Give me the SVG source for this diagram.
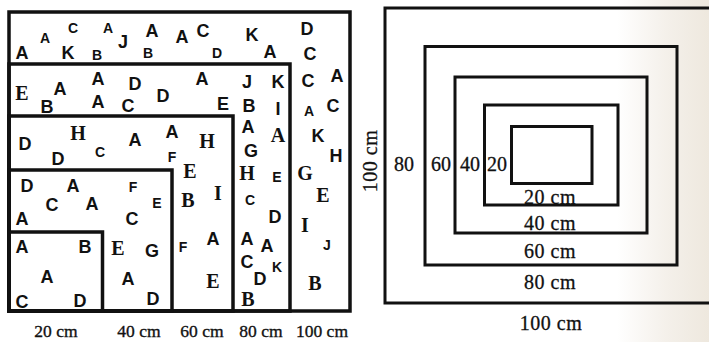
<svg xmlns="http://www.w3.org/2000/svg" width="709" height="342" viewBox="0 0 709 342">
<defs>
<linearGradient id="bg" x1="0" y1="0" x2="1" y2="0">
<stop offset="0" stop-color="#ffffff"/>
<stop offset="0.87" stop-color="#ffffff"/>
<stop offset="0.94" stop-color="#f4f0ea"/>
<stop offset="1" stop-color="#eee8de"/>
</linearGradient>
</defs>
<style>
.fr{fill:none;stroke:#111;stroke-width:3.5}
.fr2{fill:none;stroke:#111;stroke-width:3}
text{fill:#111;text-anchor:middle}
.L{font-family:"Liberation Sans",Arial,sans-serif;font-weight:bold;font-size:18px}
.m{font-family:"Liberation Sans",Arial,sans-serif;font-weight:bold;font-size:14px}
.S{font-family:"Liberation Serif","Times New Roman",serif;font-weight:bold;font-size:20px}
.lab{font-family:"Liberation Serif","Times New Roman",serif;font-size:17.5px;stroke:#111;stroke-width:0.35}
.rl{font-family:"Liberation Serif","Times New Roman",serif;font-size:20px;stroke:#111;stroke-width:0.3}
</style>
<rect x="0" y="0" width="709" height="342" fill="url(#bg)"/>
<g id="left-frames">
<rect class="fr" x="9" y="12" width="341" height="299"/>
<rect class="fr" x="9" y="64" width="281" height="247"/>
<rect class="fr" x="9" y="116" width="224" height="195"/>
<rect class="fr" x="9" y="170" width="163" height="141"/>
<rect class="fr" x="9" y="232" width="93.5" height="79"/>
</g>
<g id="letters">
<text class="L" x="22" y="59">A</text>
<text class="m" x="45" y="43">A</text>
<text class="m" x="73" y="33">C</text>
<text class="L" x="68" y="59">K</text>
<text class="m" x="97" y="60">B</text>
<text class="m" x="108" y="33">A</text>
<text class="L" x="123" y="48">J</text>
<text class="L" x="152" y="37">A</text>
<text class="m" x="148" y="58">B</text>
<text class="L" x="182" y="43">A</text>
<text class="L" x="203" y="37">C</text>
<text class="L" x="252" y="41">K</text>
<text class="m" x="217" y="58">D</text>
<text class="L" x="270" y="58">A</text>
<text class="L" x="307" y="35">D</text>
<text class="L" x="310" y="60">C</text>

<text class="S" x="22" y="100">E</text>
<text class="L" x="47" y="113">B</text>
<text class="L" x="60" y="95">A</text>
<text class="L" x="98" y="85">A</text>
<text class="L" x="98" y="108">A</text>
<text class="L" x="135" y="90">D</text>
<text class="L" x="128" y="112">C</text>
<text class="L" x="163" y="102">D</text>
<text class="L" x="202" y="85">A</text>
<text class="L" x="247" y="88">J</text>
<text class="L" x="278" y="88">K</text>
<text class="L" x="308" y="87">C</text>
<text class="L" x="337" y="82">A</text>
<text class="L" x="223" y="110">E</text>
<text class="L" x="249" y="112">B</text>
<text class="L" x="278" y="115">I</text>
<text class="m" x="309" y="116">A</text>
<text class="L" x="333" y="112">C</text>

<text class="L" x="25" y="150">D</text>
<text class="S" x="78" y="140">H</text>
<text class="L" x="58" y="165">D</text>
<text class="m" x="100" y="157">C</text>
<text class="L" x="135" y="146">A</text>
<text class="L" x="172" y="138">A</text>
<text class="m" x="172" y="162">F</text>
<text class="S" x="207" y="148">H</text>
<text class="L" x="248" y="133">A</text>
<text class="L" x="251" y="157">G</text>
<text class="S" x="278" y="142">A</text>
<text class="L" x="318" y="142">K</text>
<text class="L" x="336" y="162">H</text>
<text class="S" x="190" y="178">E</text>
<text class="S" x="188" y="207">B</text>
<text class="S" x="218" y="200">I</text>
<text class="S" x="247" y="180">H</text>
<text class="m" x="250" y="205">C</text>
<text class="m" x="277" y="182">E</text>
<text class="S" x="305" y="180">G</text>
<text class="S" x="323" y="202">E</text>
<text class="L" x="275" y="223">D</text>
<text class="S" x="305" y="232">I</text>

<text class="L" x="27" y="192">D</text>
<text class="L" x="73" y="192">A</text>
<text class="L" x="52" y="211">C</text>
<text class="L" x="92" y="210">A</text>
<text class="m" x="133" y="192">F</text>
<text class="m" x="157" y="208">E</text>
<text class="L" x="22" y="225">A</text>
<text class="L" x="132" y="225">C</text>

<text class="L" x="22" y="253">A</text>
<text class="L" x="85" y="253">B</text>
<text class="L" x="47" y="283">A</text>
<text class="L" x="22" y="308">C</text>
<text class="L" x="80" y="307">D</text>
<text class="S" x="118" y="255">E</text>
<text class="L" x="152" y="257">G</text>
<text class="L" x="128" y="285">A</text>
<text class="L" x="153" y="305">D</text>
<text class="m" x="183" y="252">F</text>
<text class="L" x="213" y="245">A</text>
<text class="S" x="213" y="288">E</text>
<text class="L" x="247" y="245">A</text>
<text class="L" x="267" y="252">A</text>
<text class="L" x="247" y="268">C</text>
<text class="m" x="277" y="272">K</text>
<text class="L" x="260" y="285">D</text>
<text class="S" x="248" y="306">B</text>
<text class="m" x="327" y="250">J</text>
<text class="S" x="315" y="290">B</text>
</g>
<g id="left-labels">
<text class="lab" x="56" y="337">20 cm</text>
<text class="lab" x="139" y="337">40 cm</text>
<text class="lab" x="202" y="337">60 cm</text>
<text class="lab" x="261" y="337">80 cm</text>
<text class="lab" x="322" y="337">100 cm</text>
</g>
<g id="right-frames">
<rect class="fr2" x="385" y="8" width="340" height="295"/>
<rect class="fr2" x="425" y="46.5" width="252" height="218.5"/>
<rect class="fr2" x="455" y="77" width="192" height="156"/>
<rect class="fr2" x="484.5" y="105" width="133.5" height="100"/>
<rect class="fr2" x="511.5" y="126.5" width="80.5" height="57"/>
</g>
<g id="right-labels">
<text class="rl" x="404" y="171">80</text>
<text class="rl" x="441" y="171">60</text>
<text class="rl" x="470" y="171">40</text>
<text class="rl" x="497" y="171">20</text>
<text class="rl" x="550" y="204" letter-spacing="0.5">20 cm</text>
<text class="rl" x="550" y="230" letter-spacing="0.5">40 cm</text>
<text class="rl" x="550" y="258" letter-spacing="0.5">60 cm</text>
<text class="rl" x="550" y="289" letter-spacing="0.5">80 cm</text>
<text class="rl" x="551" y="330" letter-spacing="0.5">100 cm</text>
<text class="rl" transform="translate(377,161) rotate(-90)" x="0" y="0" letter-spacing="0.5">100 cm</text>
</g>
</svg>
